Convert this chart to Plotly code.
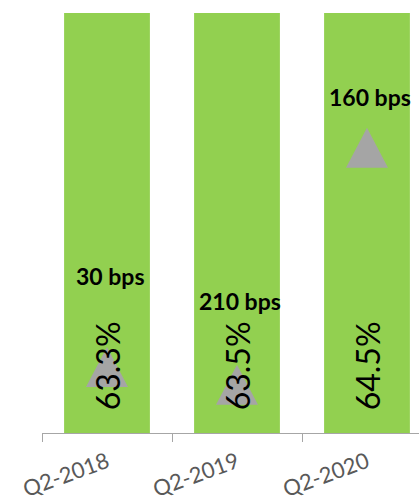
import plotly.graph_objects as go

# ---- data ----
categories = ["Q2-2018", "Q2-2019", "Q2-2020"]
share_pct = [63.3, 63.5, 64.5]
bps_change = [30, 210, 160]
# positions on a hidden 0-100 secondary scale
triangle_level = [15.7, 11.5, 67.9]
bps_label_level = [37.4, 31.4, 80.0]
pct_label_level = [4.8, 4.8, 4.8]

FONT = "Lato"
GREEN = "#92D050"
GREY = "#A5A5A5"

fig = go.Figure()
fig.add_trace(go.Bar(
    x=categories, y=share_pct,
    marker=dict(color=GREEN, line=dict(width=0)),
    width=0.66, hoverinfo="skip", showlegend=False,
))
# invisible trace to activate y2
fig.add_trace(go.Scatter(
    x=categories, y=triangle_level, yaxis="y2",
    mode="markers", marker=dict(opacity=0), hoverinfo="skip", showlegend=False,
))

shapes = []
for i, lvl in enumerate(triangle_level):
    shapes.append(dict(
        type="path", xref="x", yref="y2", xsizemode="pixel", ysizemode="pixel",
        xanchor=i, yanchor=lvl,
        path="M -21 -20 L 21 -20 L 0 20 Z",
        fillcolor=GREY, line=dict(width=0), layer="above",
    ))

annotations = []
for cat, v, lvl in zip(categories, share_pct, pct_label_level):
    annotations.append(dict(
        x=cat, y=lvl, xref="x", yref="y2", text=f"{v:.1f}%", textangle=-90,
        showarrow=False, xanchor="center", yanchor="bottom",
        font=dict(family=FONT, size=32, color="#000000"),
    ))
for cat, b, lvl in zip(categories, bps_change, bps_label_level):
    annotations.append(dict(
        x=cat, y=lvl, xref="x", yref="y2", text=f"<b>{b} bps</b>",
        showarrow=False, xanchor="center", yanchor="middle", xshift=3,
        font=dict(family=FONT, size=23, color="#000000"),
    ))

fig.update_layout(
    width=419, height=503,
    margin=dict(l=42, r=0, t=13, b=70),
    paper_bgcolor="white", plot_bgcolor="white",
    bargap=0.34,
    xaxis=dict(
        type="category", categoryorder="array", categoryarray=categories,
        range=[-0.5, 2.4], automargin=False,
        tickson="boundaries", ticks="outside", ticklen=8, tickcolor="#A6A6A6",
        showline=True, linecolor="#A6A6A6", linewidth=1,
        showgrid=False, zeroline=False, tickangle=-20,
        ticklabelstandoff=7,
        tickfont=dict(family=FONT, size=22, color="#595959"),
    ),
    yaxis=dict(range=[0, 60], visible=False, showgrid=False, zeroline=False),
    yaxis2=dict(range=[0, 100], overlaying="y", visible=False,
                showgrid=False, zeroline=False),
    shapes=shapes, annotations=annotations,
)

fig.write_html("out.html")
